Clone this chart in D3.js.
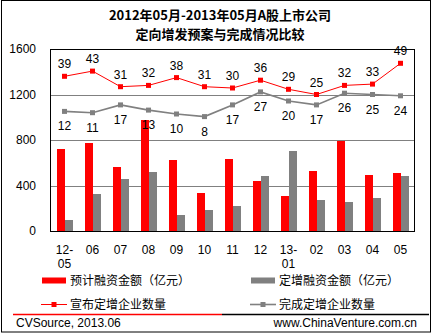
<!DOCTYPE html>
<html>
<head>
<meta charset="utf-8">
<script src="https://cdn.jsdelivr.net/npm/d3@7"></script>
<style>
  html, body { margin: 0; padding: 0; background: #fff; }
  svg { display: block; }
</style>
</head>
<body>
<div id="chart"></div>
<script>
// ---- data ----
const titleLines = ["2012年05月-2013年05月A股上市公司", "定向增发预案与完成情况比较"];
const categories = ["12-05", "06", "07", "08", "09", "10", "11", "12", "13-01", "02", "03", "04", "05"];
const plannedAmount = [724, 774, 565, 976, 624, 337, 633, 440, 310, 530, 794, 495, 513];   // 预计融资金额（亿元）
const completedAmount = [99, 328, 460, 521, 143, 187, 222, 486, 706, 275, 259, 286, 486]; // 定增融资金额（亿元）
const announcedCount = [39, 43, 31, 32, 38, 31, 30, 36, 29, 25, 32, 33, 49];  // 宣布定增企业数量
const completedCount = [12, 11, 17, 13, 10, 8, 17, 27, 20, 17, 26, 25, 24];   // 完成定增企业数量
const yTicks = [0, 400, 800, 1200, 1600];
const y2Domain = [-80, 60];
const seriesNames = ["预计融资金额（亿元）", "定增融资金额（亿元）", "宣布定增企业数量", "完成定增企业数量"];
const sourceText = "CVSource, 2013.06";
const siteText = "www.ChinaVenture.com.cn";

// ---- layout ----
const W = 435, H = 335;
const plot = { left: 50, right: 414, top: 49, bottom: 231 };
const RED = "#ff0000", GRAY = "#808080";
const latin = "'Liberation Sans', Arial, sans-serif";
const cjk = "'Noto Sans CJK SC', 'Liberation Sans', sans-serif";

const svg = d3.select("#chart").append("svg").attr("width", W).attr("height", H);

// outer frame
svg.append("rect").attr("x", 1.5).attr("y", 0.5).attr("width", 429).attr("height", 331.5)
  .attr("fill", "#fff").attr("stroke", "#000").attr("stroke-width", 1);

// title
svg.append("g").selectAll("text").data(titleLines).join("text")
  .attr("x", 220).attr("y", (d, i) => 20 + i * 19)
  .attr("text-anchor", "middle")
  .attr("font-family", cjk).attr("font-weight", "bold").attr("font-size", 13)
  .attr("fill", "#000").text(d => d);

// scales
const x = d3.scaleBand().domain(categories).range([plot.left, plot.right]).padding(0);
const xSub = d3.scaleBand().domain(["plan", "done"]).range([6.5, 22.5]).padding(0);
const y = d3.scaleLinear().domain([0, 1600]).range([plot.bottom, plot.top]);
const y2 = d3.scaleLinear().domain(y2Domain).range([plot.bottom, plot.top]);
const cx = c => x(c) + x.bandwidth() / 2 + 0.5;

// gridlines
svg.append("g").attr("transform", `translate(${plot.left},0)`)
  .call(d3.axisLeft(y).tickValues(yTicks.filter(v => v > 0 && v < 1600))
    .tickSize(-(plot.right - plot.left)).tickFormat(""))
  .call(g => g.select(".domain").remove())
  .call(g => g.selectAll("line").attr("stroke", GRAY).attr("shape-rendering", "crispEdges"));

// y axis labels
svg.append("g").attr("transform", `translate(${plot.left},0)`)
  .call(d3.axisLeft(y).tickValues(yTicks).tickSize(0).tickPadding(14).tickFormat(d3.format("d")))
  .call(g => g.select(".domain").remove())
  .call(g => g.selectAll("text").attr("font-family", latin).attr("font-size", 12).attr("fill", "#000"));

// bars
const barG = svg.append("g").attr("shape-rendering", "crispEdges");
barG.selectAll("rect.plan").data(categories).join("rect").attr("class", "plan")
  .attr("x", (c) => x(c) + xSub("plan")).attr("width", xSub.bandwidth())
  .attr("y", (c, i) => y(plannedAmount[i])).attr("height", (c, i) => y(0) - y(plannedAmount[i]))
  .attr("fill", RED);
barG.selectAll("rect.done").data(categories).join("rect").attr("class", "done")
  .attr("x", (c) => x(c) + xSub("done")).attr("width", xSub.bandwidth())
  .attr("y", (c, i) => y(completedAmount[i])).attr("height", (c, i) => y(0) - y(completedAmount[i]))
  .attr("fill", GRAY);

// plot frame
svg.append("rect").attr("x", plot.left).attr("y", plot.top)
  .attr("width", plot.right - plot.left).attr("height", plot.bottom - plot.top)
  .attr("fill", "none").attr("stroke", "#000").attr("shape-rendering", "crispEdges");

// x axis
const xAxis = svg.append("g").attr("transform", `translate(0.5,${plot.bottom})`)
  .call(d3.axisBottom(x).tickSize(0).tickPadding(14))
  .call(g => g.select(".domain").remove());
xAxis.selectAll("text").each(function (d) {
  const t = d3.select(this);
  const parts = d.includes("-") ? [d.split("-")[0] + "-", d.split("-")[1]] : [d];
  t.text(null).attr("font-family", latin).attr("font-size", 12).attr("fill", "#000");
  parts.forEach((p, i) => t.append("tspan").attr("x", 0).attr("dy", i === 0 ? "0.71em" : "14px").text(p));
});

// lines
function drawLine(values, color, width, labelDy) {
  const pts = categories.map((c, i) => [cx(c), y2(values[i])]);
  svg.append("path").attr("d", d3.line()(pts)).attr("fill", "none")
    .attr("stroke", color).attr("stroke-width", width);
  svg.append("g").selectAll("rect").data(pts).join("rect")
    .attr("x", d => d[0] - 2.5).attr("y", d => d[1] - 2.5)
    .attr("width", 5).attr("height", 5).attr("fill", color);
  svg.append("g").selectAll("text").data(values).join("text")
    .attr("x", (v, i) => pts[i][0]).attr("y", (v, i) => pts[i][1] + labelDy)
    .attr("text-anchor", "middle").attr("font-family", latin).attr("font-size", 12)
    .attr("fill", "#000").text(v => v);
}
drawLine(completedCount, GRAY, 1.6, 19);
drawLine(announcedCount, RED, 1, -8);

// legend
const leg = svg.append("g").attr("font-family", cjk).attr("font-size", 12).attr("fill", "#000");
const legItems = [
  { name: seriesNames[0], type: "bar", color: RED, x: 42, y: 280.5 },
  { name: seriesNames[1], type: "bar", color: GRAY, x: 251, y: 280.5 },
  { name: seriesNames[2], type: "line", color: RED, x: 41, y: 304.5 },
  { name: seriesNames[3], type: "line", color: GRAY, x: 250, y: 304.5 }
];
legItems.forEach(it => {
  if (it.type === "bar") {
    leg.append("rect").attr("x", it.x).attr("y", it.y - 3).attr("width", 24).attr("height", 6).attr("fill", it.color);
  } else {
    leg.append("line").attr("x1", it.x).attr("x2", it.x + 26).attr("y1", it.y).attr("y2", it.y)
      .attr("stroke", it.color).attr("stroke-width", it.color === RED ? 1 : 1.6);
    leg.append("rect").attr("x", it.x + 10.5).attr("y", it.y - 2.5).attr("width", 5).attr("height", 5).attr("fill", it.color);
  }
  leg.append("text").attr("x", 70 + (it.x > 200 ? 209 : 0)).attr("y", it.y + 4.5).text(it.name);
});

// separator
svg.append("line").attr("x1", 13).attr("x2", 222).attr("y1", 314.5).attr("y2", 314.5).attr("stroke", RED).attr("stroke-width", 1.3);
svg.append("line").attr("x1", 222).attr("x2", 429).attr("y1", 314.5).attr("y2", 314.5).attr("stroke", "#000").attr("stroke-width", 1.3);

// footer
svg.append("text").attr("x", 16).attr("y", 327).attr("font-family", latin).attr("font-size", 12).text(sourceText);
svg.append("text").attr("x", 417).attr("y", 327).attr("text-anchor", "end").attr("font-family", latin).attr("font-size", 12).text(siteText);
</script>
</body>
</html>
